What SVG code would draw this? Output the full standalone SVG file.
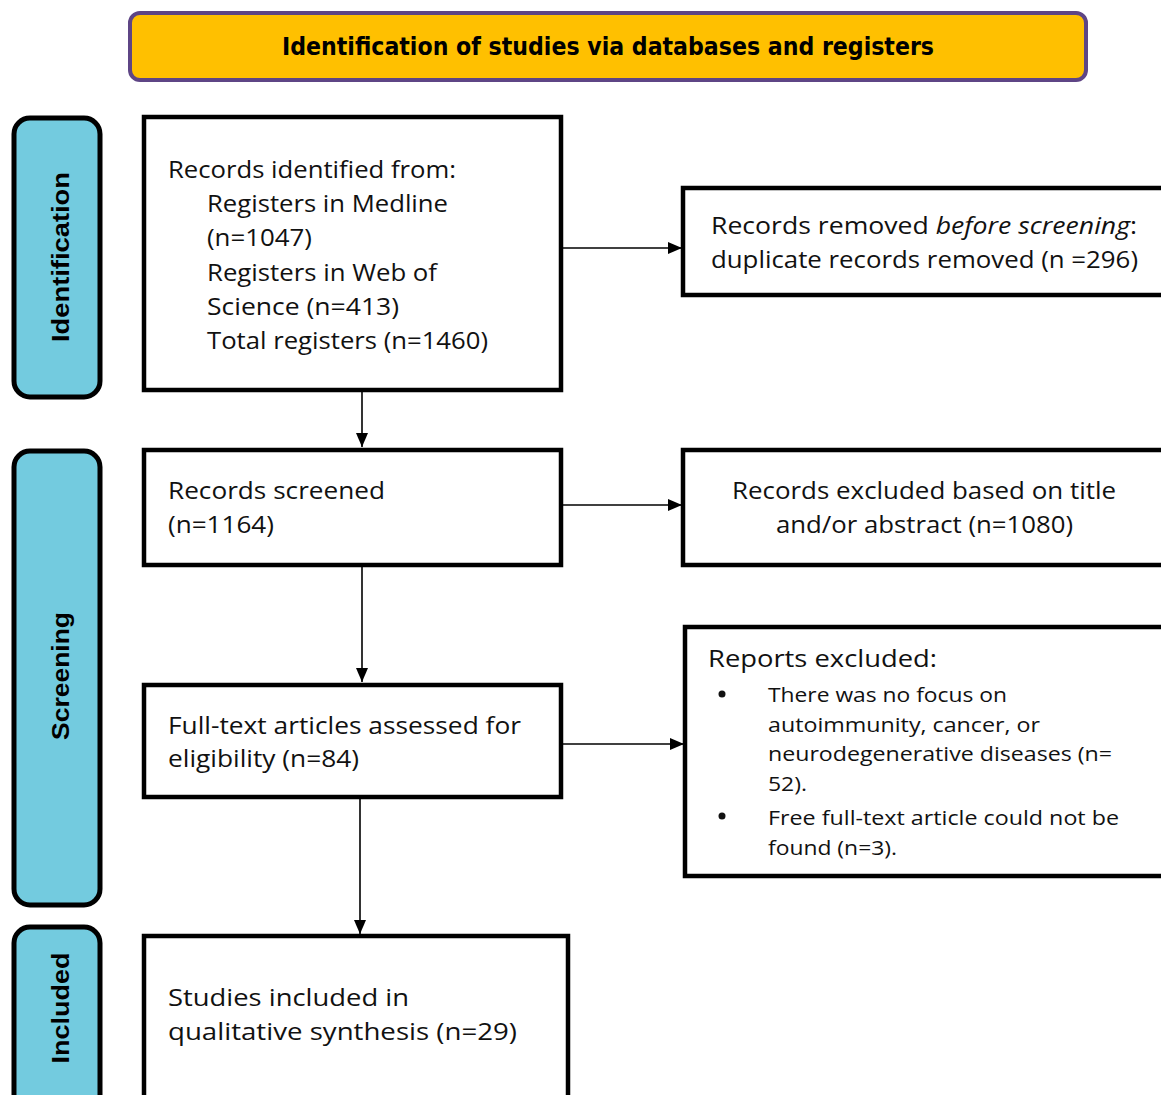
<svg xmlns="http://www.w3.org/2000/svg" width="1161" height="1095" viewBox="0 0 1161 1095">
<defs>
<marker id="ah" markerWidth="14" markerHeight="12" refX="14" refY="6" orient="auto" markerUnits="userSpaceOnUse">
<path d="M0,0 L14,6 L0,12 Z" fill="#000"/>
</marker>
<style>
.box{fill:#fff;stroke:#000;stroke-width:4.5}
.side{fill:#73CBDF;stroke:#000;stroke-width:5}
.sl{font-family:"Liberation Sans","DejaVu Sans",sans-serif;font-weight:bold;font-size:24px;fill:#000;text-anchor:middle}
.t{font-family:"Open Sans","Noto Sans","Liberation Sans",sans-serif;font-size:23px;fill:#111}
.s{font-family:"Open Sans","Noto Sans","Liberation Sans",sans-serif;font-size:20.5px;fill:#111}
.c{fill:none;stroke:#000;stroke-width:1.6}
</style>
</defs>
<rect width="1161" height="1095" fill="#fff"/>
<g id="header">
<rect x="130" y="13" width="956" height="67" rx="10" fill="#FFC000" stroke="#5E4585" stroke-width="4"/>
<text x="608" y="55" font-family="'Liberation Sans Narrow','DejaVu Sans Condensed','Liberation Sans',sans-serif" font-weight="bold" font-size="25" text-anchor="middle" textLength="652" lengthAdjust="spacingAndGlyphs">Identification of studies via databases and registers</text>
</g>
<g id="side-identification">
<rect class="side" x="14" y="118" width="86" height="279" rx="16"/>
<text class="sl" transform="translate(69,257) rotate(-90)" textLength="170" lengthAdjust="spacingAndGlyphs">Identification</text>
</g>
<g id="side-screening">
<rect class="side" x="14" y="451" width="86" height="454" rx="16"/>
<text class="sl" transform="translate(69,676) rotate(-90)" textLength="128" lengthAdjust="spacingAndGlyphs">Screening</text>
</g>
<g id="side-included">
<rect class="side" x="14" y="927" width="86" height="190" rx="16"/>
<text class="sl" transform="translate(69,1008) rotate(-90)" textLength="111" lengthAdjust="spacingAndGlyphs">Included</text>
</g>
<g id="connectors">
<line class="c" x1="562" y1="248" x2="682" y2="248" marker-end="url(#ah)"/>
<line class="c" x1="362" y1="391" x2="362" y2="447" marker-end="url(#ah)"/>
<line class="c" x1="562" y1="505" x2="682" y2="505" marker-end="url(#ah)"/>
<line class="c" x1="362" y1="566" x2="362" y2="682" marker-end="url(#ah)"/>
<line class="c" x1="562" y1="744" x2="684" y2="744" marker-end="url(#ah)"/>
<line class="c" x1="360" y1="798" x2="360" y2="934" marker-end="url(#ah)"/>
</g>
<g id="records-identified">
<rect class="box" x="144" y="117" width="417" height="273"/>
<text class="t" x="168" y="178" textLength="288" lengthAdjust="spacingAndGlyphs">Records identified from:</text>
<text class="t" x="207" y="212" textLength="241" lengthAdjust="spacingAndGlyphs">Registers in Medline</text>
<text class="t" x="207" y="246" textLength="105" lengthAdjust="spacingAndGlyphs">(n=1047)</text>
<text class="t" x="207" y="281" textLength="230" lengthAdjust="spacingAndGlyphs">Registers in Web of</text>
<text class="t" x="207" y="315" textLength="192" lengthAdjust="spacingAndGlyphs">Science (n=413)</text>
<text class="t" x="207" y="349" textLength="281" lengthAdjust="spacingAndGlyphs">Total registers (n=1460)</text>
</g>
<g id="records-removed">
<rect class="box" x="683" y="188" width="490" height="107"/>
<text class="t" x="711" y="234" textLength="426" lengthAdjust="spacingAndGlyphs">Records removed <tspan font-style="italic">before screening</tspan>:</text>
<text class="t" x="711" y="268" textLength="427" lengthAdjust="spacingAndGlyphs">duplicate records removed (n =296)</text>
</g>
<g id="records-screened">
<rect class="box" x="144" y="450" width="417" height="115"/>
<text class="t" x="168" y="499" textLength="217" lengthAdjust="spacingAndGlyphs">Records screened</text>
<text class="t" x="168" y="533" textLength="106" lengthAdjust="spacingAndGlyphs">(n=1164)</text>
</g>
<g id="records-excluded">
<rect class="box" x="683" y="450" width="490" height="115"/>
<text class="t" x="732" y="499" textLength="384" lengthAdjust="spacingAndGlyphs">Records excluded based on title</text>
<text class="t" x="776" y="533" textLength="297" lengthAdjust="spacingAndGlyphs">and/or abstract (n=1080)</text>
</g>
<g id="full-text">
<rect class="box" x="144" y="685" width="417" height="112"/>
<text class="t" x="168" y="734" textLength="353" lengthAdjust="spacingAndGlyphs">Full-text articles assessed for</text>
<text class="t" x="168" y="767" textLength="191" lengthAdjust="spacingAndGlyphs">eligibility (n=84)</text>
</g>
<g id="reports-excluded">
<rect class="box" x="685" y="627" width="490" height="249"/>
<text class="t" x="708" y="667" font-size="24" textLength="229" lengthAdjust="spacingAndGlyphs">Reports excluded:</text>
<circle cx="722" cy="694" r="3.5" fill="#111"/>
<text class="s" x="768" y="702" textLength="239" lengthAdjust="spacingAndGlyphs">There was no focus on</text>
<text class="s" x="768" y="732" textLength="272" lengthAdjust="spacingAndGlyphs">autoimmunity, cancer, or</text>
<text class="s" x="768" y="761" textLength="344" lengthAdjust="spacingAndGlyphs">neurodegenerative diseases (n=</text>
<text class="s" x="768" y="791" textLength="39" lengthAdjust="spacingAndGlyphs">52).</text>
<circle cx="722" cy="816" r="3.5" fill="#111"/>
<text class="s" x="768" y="825" textLength="351" lengthAdjust="spacingAndGlyphs">Free full-text article could not be</text>
<text class="s" x="768" y="855" textLength="129" lengthAdjust="spacingAndGlyphs">found (n=3).</text>
</g>
<g id="studies-included">
<rect class="box" x="144" y="936" width="424" height="175"/>
<text class="t" x="168" y="1006" textLength="241" lengthAdjust="spacingAndGlyphs">Studies included in</text>
<text class="t" x="168" y="1040" textLength="349" lengthAdjust="spacingAndGlyphs">qualitative synthesis (n=29)</text>
</g>
</svg>
